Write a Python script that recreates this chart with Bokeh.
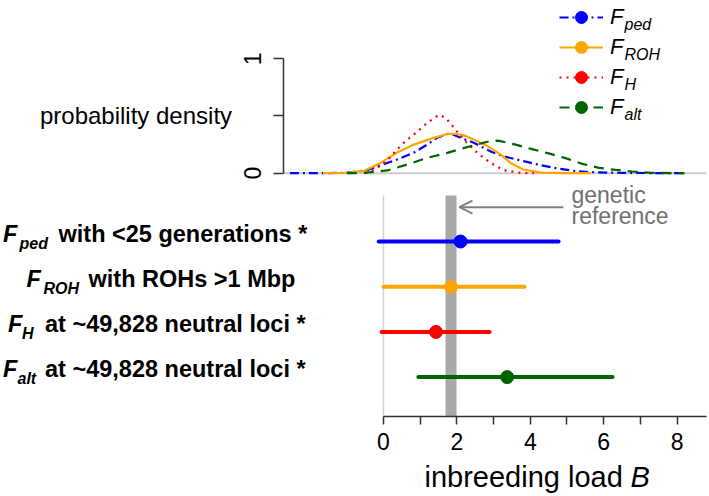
import math
from bokeh.plotting import figure
from bokeh.models import (Range1d, LinearAxis, FixedTicker, Label, Legend, LegendItem,
                          Arrow, OpenHead)
from bokeh.embed import file_html
from bokeh.resources import INLINE

# ---------------- data ----------------
subscripts = ["ped", "ROH", "H", "alt"]
label_rest = ["with <25 generations *", "with ROHs >1 Mbp",
              "at ~49,828 neutral loci *", "at ~49,828 neutral loci *"]
colors = ["#0000ff", "#ffa500", "#ff0000", "#006400"]
dashes = ["9 4 2 4", "solid", "2 5", "10 7"]
row_pos = [4, 3, 2, 1]
estimate = [2.10, 1.84, 1.43, 3.37]
lower = [-0.13, 0.00, -0.05, 0.95]
upper = [4.77, 3.84, 2.89, 6.24]
ref_low, ref_high = 1.69, 1.99

ped_B = [-2.55, -1.5, -1.0, -0.45, -0.08, 0.37, 0.83, 1.19, 1.46, 1.74, 1.85, 2.10, 2.46,
         2.92, 3.28, 3.82, 4.28, 4.73, 5.20, 5.64, 6.50, 7.40, 8.20]
ped_d = [0.0, 0.0, 0.005, 0.026, 0.07, 0.12, 0.18, 0.25, 0.31, 0.343, 0.345, 0.31, 0.266,
         0.19, 0.147, 0.105, 0.07, 0.042, 0.02, 0.009, 0.003, 0.001, 0.0]
roh_B = [-1.65, -1.0, -0.54, -0.08, 0.37, 0.83, 1.28, 1.74, 1.95, 2.20, 2.46, 2.83, 3.19,
         3.46, 3.81, 4.28, 5.0, 5.65]
roh_d = [0.0, 0.003, 0.02, 0.09, 0.18, 0.25, 0.30, 0.343, 0.345, 0.33, 0.295, 0.237, 0.164,
         0.09, 0.032, 0.005, 0.0, 0.0]
h_B = [-0.5, -0.2, 0.1, 0.35, 0.6, 0.87, 1.19, 1.51, 1.69, 1.84, 1.99, 2.23, 2.55, 2.73,
       2.92, 3.27, 3.73, 4.1]
h_d = [0.0, 0.04, 0.11, 0.2, 0.28, 0.35, 0.44, 0.51, 0.485, 0.43, 0.37, 0.28, 0.18, 0.135,
       0.09, 0.026, 0.003, 0.0]
alt_B = [-1.0, -0.54, 0.1, 0.65, 1.19, 1.74, 2.28, 2.83, 3.12, 3.6, 4.05, 4.5, 4.96, 5.41,
         5.87, 6.32, 6.78, 7.32, 8.2]
alt_d = [0.0, 0.002, 0.024, 0.076, 0.134, 0.178, 0.228, 0.275, 0.285, 0.25, 0.21, 0.173,
         0.132, 0.082, 0.047, 0.029, 0.015, 0.003, 0.0]
dens_B = [ped_B, roh_B, h_B, alt_B]
dens_d = [ped_d, roh_d, h_d, alt_d]

x_ticks = [0, 1, 2, 3, 4, 5, 6, 7, 8]
x_tick_text = {1: "", 3: "", 5: "", 7: ""}
y_ticks = [0, 0.5, 1]
y_tick_labels = {0: "0", 1: "1"}

# ---------------- layout (whole canvas is the frame) ----------------
W, H = 709, 496
X0, X1 = -10.436, 8.883       # inbreeding load B across the canvas
Y0, Y1 = -1.6416, 9.3319      # row units
D0, D1 = -2.826, 1.5096       # density units
D_LEFT, D_RIGHT = -2.725, 8.80
FONT = "Liberation Sans"

def bx(px):
    return X0 + px * (X1 - X0) / W

def ry(py):
    return Y1 - py * (Y1 - Y0) / H

def dy(py):
    return D1 - py * (D1 - D0) / H

PXR = (Y1 - Y0) / H  # row units per pixel

p = figure(width=W, height=H, output_backend="svg", toolbar_location=None,
           x_range=Range1d(X0, X1), y_range=Range1d(Y0, Y1),
           x_axis_location=None, y_axis_location=None,
           min_border_left=0, min_border_right=0, min_border_top=0, min_border_bottom=0)
p.extra_y_ranges = {"dens": Range1d(D0, D1)}
p.outline_line_color = None
p.grid.grid_line_color = None
p.background_fill_color = "white"
p.border_fill_color = "white"

# axes
xa = LinearAxis(bounds=(0, D_RIGHT), ticker=FixedTicker(ticks=x_ticks),
                major_label_overrides=x_tick_text, fixed_location=ry(416))
xa.axis_line_color = "#333333"
xa.axis_line_width = 1.5
xa.major_tick_line_color = "#333333"
xa.major_tick_line_width = 1.5
xa.major_tick_out = 8
xa.major_tick_in = 0
xa.minor_tick_line_color = None
xa.major_label_standoff = 8
xa.major_label_text_font = FONT
xa.major_label_text_font_size = "23px"
xa.major_label_text_color = "black"
p.add_layout(xa, "below")

ya = LinearAxis(y_range_name="dens", bounds=(0, 1), ticker=FixedTicker(ticks=y_ticks),
                major_label_overrides={t: "" for t in y_ticks}, fixed_location=D_LEFT)
ya.axis_line_color = "#333333"
ya.axis_line_width = 1.5
ya.major_tick_line_color = "#333333"
ya.major_tick_line_width = 1.5
ya.major_tick_out = 10
ya.major_tick_in = 0
ya.minor_tick_line_color = None
p.add_layout(ya, "left")
# rotated tick labels, centred on their ticks (R style)
for t, txt in y_tick_labels.items():
    p.add_layout(Label(x=bx(252), y=t, y_range_name="dens", text=txt, angle=math.pi / 2,
                       text_font=FONT, text_font_size="23px", text_color="black",
                       text_align="center", text_baseline="middle"))

# density baseline
p.segment(x0=[D_LEFT], x1=[D_RIGHT], y0=[0], y1=[0], y_range_name="dens",
          line_color="#cccccc", line_width=2)

# density curves
dens_r = []
for i in range(4):
    r = p.line(dens_B[i], dens_d[i], y_range_name="dens", line_color=colors[i],
               line_width=2.2, line_dash=dashes[i])
    dens_r.append(r)

# bottom panel: zero line and genetic reference band
band_top = ry(195)
axis_y = ry(416)
p.segment(x0=[0], x1=[0], y0=[axis_y], y1=[band_top], line_color="#d3d3d3", line_width=1.5)
p.quad(left=[ref_low], right=[ref_high], bottom=[axis_y], top=[band_top],
       fill_color="#a9a9a9", line_color=None)

# error bars and estimates
pt_r = []
for i in range(4):
    p.segment(x0=[lower[i]], x1=[upper[i]], y0=[row_pos[i]], y1=[row_pos[i]],
              line_color=colors[i], line_width=4, line_cap="round")
    r = p.scatter([estimate[i]], [row_pos[i]], size=13, marker="circle",
                  fill_color=colors[i], line_color=colors[i])
    pt_r.append(r)

# arrow + genetic reference text
p.add_layout(Arrow(end=OpenHead(size=13, line_color="#808080", line_width=2),
                   x_start=4.9, y_start=ry(206.7), x_end=ref_high + 0.08, y_end=ry(206.7),
                   line_color="#808080", line_width=2))
for txt, py in [("genetic", 194.0), ("reference", 215.5)]:
    p.add_layout(Label(x=bx(571), y=ry(py), text=txt, text_font=FONT,
                       text_font_size="23px", text_color="#707070",
                       text_baseline="middle", text_align="left"))

# legend
items = [LegendItem(label="F", renderers=[dens_r[i], pt_r[i]]) for i in range(4)]
leg = Legend(items=items, location="top_right", margin=2, padding=0, spacing=0,
             glyph_width=44, glyph_height=30, label_height=30, label_width=97,
             label_standoff=7, border_line_color=None, background_fill_alpha=0,
             label_text_font=FONT, label_text_font_style="italic",
             label_text_font_size="22px", label_text_color="black")
p.add_layout(leg)
for i in range(4):
    p.add_layout(Label(x=bx(624), y=dy(17 + 30 * i + 7), y_range_name="dens",
                       text=subscripts[i], text_font=FONT, text_font_style="italic",
                       text_font_size="16px", text_color="black",
                       text_baseline="middle"))

# density axis title
p.add_layout(Label(x=bx(135.5), y=dy(114.5), y_range_name="dens", text="probability density",
                   text_font=FONT, text_font_size="24px", text_color="black",
                   text_align="center", text_baseline="middle"))

# row labels
F_x = [2.5, 26.0, 7.5, 2.5]
sub_x = [19.0, 43.0, 21.5, 17.0]
rest_x = [58.0, 88.0, 44.5, 44.5]
for i in range(4):
    mid = row_pos[i] + 8 * PXR
    p.add_layout(Label(x=bx(F_x[i]), y=mid, text="F", text_font=FONT,
                       text_font_style="bold italic", text_font_size="23.5px",
                       text_color="black", text_baseline="middle"))
    p.add_layout(Label(x=bx(sub_x[i]), y=row_pos[i] - 1.5 * PXR, text=subscripts[i],
                       text_font=FONT, text_font_style="bold italic", text_font_size="16px",
                       text_color="black", text_baseline="middle"))
    p.add_layout(Label(x=bx(rest_x[i]), y=mid, text=label_rest[i], text_font=FONT,
                       text_font_style="bold", text_font_size="23.5px",
                       text_color="black", text_baseline="middle"))

# x axis title
p.add_layout(Label(x=bx(424), y=ry(476), text="inbreeding load", text_font=FONT,
                   text_font_size="29px", text_color="black", text_baseline="middle"))
p.add_layout(Label(x=bx(630), y=ry(476), text="B", text_font=FONT,
                   text_font_style="italic", text_font_size="29px", text_color="black",
                   text_baseline="middle"))

open("out.html", "w").write(file_html(p, INLINE))
